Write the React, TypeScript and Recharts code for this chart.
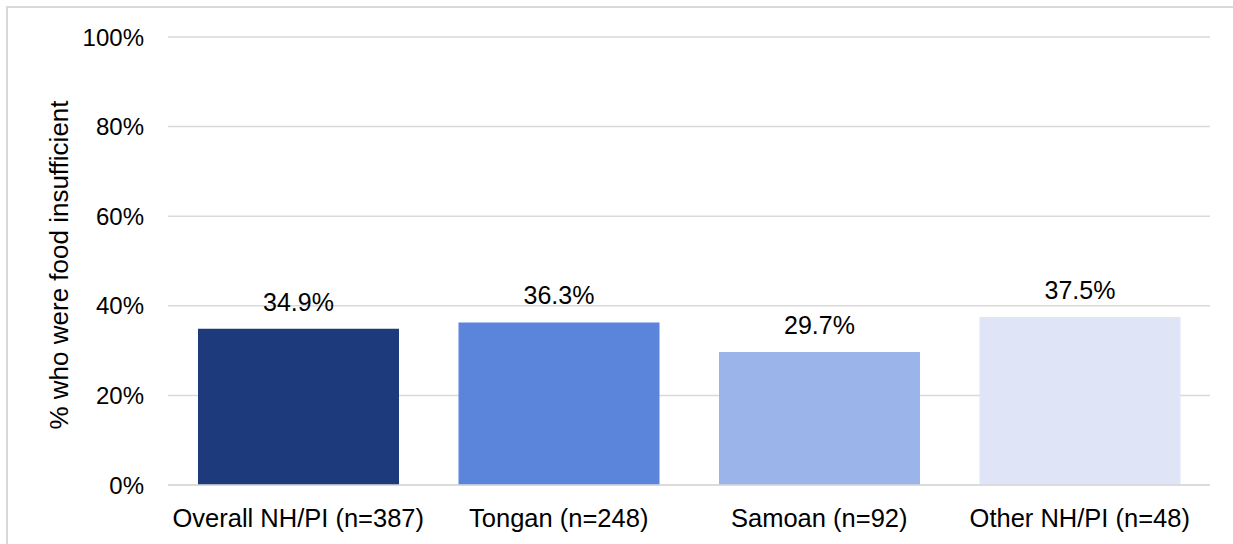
import { Bar, BarChart, CartesianGrid, Cell, LabelList, XAxis, YAxis } from "recharts"

const categories = ["Overall NH/PI (n=387)", "Tongan (n=248)", "Samoan (n=92)", "Other NH/PI (n=48)"]
const values = [34.9, 36.3, 29.7, 37.5]
const barColors = ["#1D3B7C", "#5B84DB", "#9BB4E9", "#DFE5F7"]
const yTicks = [0, 20, 40, 60, 80, 100]

const data = categories.map((name, i) => ({ name, value: values[i] }))

const font = "Liberation Sans, Arial, sans-serif"

function AxisTitle({ viewBox }: any) {
  const cx = 51
  const cy = viewBox.y + viewBox.height / 2 + 4
  return (
    <text
      x={cx}
      y={cy}
      transform={`rotate(-90, ${cx}, ${cy})`}
      textAnchor="middle"
      dominantBaseline="central"
      fill="#000"
      fontSize={26}
      fontFamily={font}
    >
      % who were food insufficient
    </text>
  )
}

export default function App() {
  return (
    <div
      style={{
        position: "fixed",
        left: 6,
        top: 6,
        width: 1240,
        height: 550,
        border: "2px solid #d9d9d9",
        background: "#fff",
      }}
    >
      <BarChart
        width={1225}
        height={540}
        data={data}
        margin={{ top: 29, right: 23, bottom: 23, left: 0 }}
        barSize={201}
      >
        <CartesianGrid vertical={false} stroke="#d9d9d9" strokeWidth={1.5} />
        <XAxis
          dataKey="name"
          axisLine={{ stroke: "#d9d9d9", strokeWidth: 1.5 }}
          tickLine={false}
          tickMargin={18}
          height={40}
          interval={0}
          tick={{ fill: "#000", fontSize: 25.5, fontFamily: font }}
        />
        <YAxis
          domain={[0, 100]}
          ticks={yTicks}
          width={160}
          axisLine={false}
          tickLine={false}
          tickMargin={18}
          tickFormatter={(v) => `${v}%`}
          tick={{ fill: "#000", fontSize: 24, fontFamily: font }}
          label={<AxisTitle />}
        />
        <Bar dataKey="value" isAnimationActive={false}>
          {data.map((d, i) => (
            <Cell key={d.name} fill={barColors[i]} />
          ))}
          <LabelList
            dataKey="value"
            position="top"
            offset={18}
            formatter={(v: number) => `${v.toFixed(1)}%`}
            style={{ fill: "#000", fontSize: 25, fontFamily: font }}
          />
        </Bar>
      </BarChart>
    </div>
  )
}
